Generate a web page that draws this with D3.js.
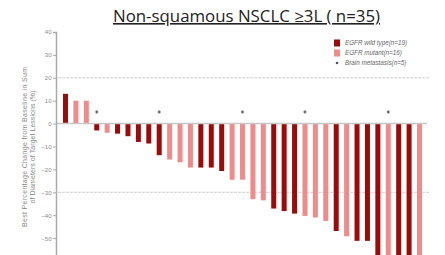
<!DOCTYPE html>
<html lang="en">
<head>
<meta charset="utf-8">
<title>Waterfall</title>
<script src="https://d3js.org/d3.v7.min.js"></script>
<style>
body { margin: 0; background: #fff; }
svg { display: block; }
</style>
</head>
<body>
<div id="chart"></div>
<script>
// data
const patients = d3.range(1, 36);
const change = [13, 10, 10, -3, -4, -4.4, -5.5, -8, -8.7, -13.8,
  -15.7, -16.9, -19.2, -19.2, -19.2, -20.7, -24.5, -24.5, -33, -33.5,
  -37.1, -38.2, -39.3, -40.3, -41, -42.5, -46.9, -49.2, -51.2, -51.2,
  -58, -62, -66, -72, -80];
const group = ["wt","mut","mut","wt","mut","wt","wt","wt","wt","wt",
  "mut","mut","mut","wt","wt","wt","mut","mut","mut","mut",
  "wt","wt","wt","mut","mut","mut","wt","mut","wt","wt",
  "wt","mut","wt","wt","mut"];
const brainMets = [4, 10, 18, 24, 32];
const yTicks = [40, 30, 20, 10, 0, -10, -20, -30, -40, -50];
const refLines = [20, -30];
const legendLabels = ["EGFR wild type(n=19)", "EGFR mutant(n=16)", "Brain metastasis(n=5)"];

const width = 445, height = 255;
const dark = "#9c0b0b", light = "#ef8b8b";
const color = d3.scaleOrdinal().domain(["wt", "mut"]).range([dark, light]);

const svg = d3.select("#chart").append("svg")
    .attr("width", width)
    .attr("height", height);

const x = d3.scaleLinear().domain([1, 35]).range([65.5, 419.5]);
const y = d3.scaleLinear().domain([-60, 40]).range([261, 32]);
const barW = 5;

// title
svg.append("text")
    .attr("x", 113).attr("y", 22)
    .attr("textLength", 267)
    .attr("lengthAdjust", "spacingAndGlyphs")
    .style("font-family", "'Open Sans', sans-serif")
    .style("font-size", "16px")
    .style("fill", "#222")
    .style("text-decoration", "underline")
    .text("Non-squamous NSCLC \u22653L ( n=35)");

// dashed reference lines
svg.selectAll(".ref")
    .data(refLines)
    .enter().append("line")
    .attr("x1", 58).attr("x2", 430)
    .attr("y1", d => y(d)).attr("y2", d => y(d))
    .attr("stroke", "#c4c4c4")
    .attr("stroke-width", 0.8)
    .attr("stroke-dasharray", "3,1");

// bars
svg.selectAll(".bar")
    .data(change)
    .enter().append("rect")
    .attr("x", (d, i) => x(patients[i]) - barW / 2)
    .attr("y", d => y(Math.max(0, d)))
    .attr("width", barW)
    .attr("height", d => Math.abs(y(d) - y(0)))
    .attr("fill", (d, i) => color(group[i]));

// zero line
svg.append("line")
    .attr("x1", 57).attr("x2", 427)
    .attr("y1", y(0)).attr("y2", y(0))
    .attr("stroke", "#c8c8c8")
    .attr("stroke-width", 1.5);

// brain metastasis markers
svg.selectAll(".star")
    .data(brainMets)
    .enter().append("circle")
    .attr("cx", d => x(d))
    .attr("cy", 112)
    .attr("r", 1.4)
    .attr("fill", "#555")
    .attr("stroke", "#bbb")
    .attr("stroke-width", 0.6);

// y axis
const yAxis = svg.append("g")
    .attr("transform", "translate(56,0)")
    .call(d3.axisLeft(y).tickValues(yTicks).tickSize(3).tickPadding(1.5));
yAxis.select(".domain").attr("stroke", "#aaa").attr("stroke-width", 1.5);
yAxis.selectAll(".tick line").attr("stroke", "#aaa");
yAxis.selectAll(".tick text")
    .style("font-family", "Arial, 'Liberation Sans', sans-serif")
    .style("font-size", "6px")
    .attr("fill", "#8a8a8a");

// y label
const yl = svg.append("text")
    .attr("transform", "translate(27,147) rotate(-90)")
    .attr("text-anchor", "middle")
    .style("font-family", "Arial, 'Liberation Sans', sans-serif")
    .style("font-size", "7px")
    .attr("fill", "#8a8a8a");
yl.append("tspan").attr("x", 0).attr("y", 0)
    .attr("textLength", 160)
    .text("Best Percentage Change from Baseline in Sum");
yl.append("tspan").attr("x", 0).attr("y", 8)
    .attr("textLength", 113)
    .text("of Diameters of Target Lessions (%)");

// legend
const legend = svg.append("g").attr("transform", "translate(334,43)");
const rows = legend.selectAll("g")
    .data(legendLabels)
    .enter().append("g")
    .attr("transform", (d, i) => "translate(0," + i * 10 + ")");
rows.filter((d, i) => i < 2).append("rect")
    .attr("x", 0).attr("y", -3.5)
    .attr("width", 6).attr("height", 7)
    .attr("fill", (d, i) => i === 0 ? dark : light);
rows.filter((d, i) => i === 2).append("circle")
    .attr("cx", 3).attr("cy", 0).attr("r", 1.3)
    .attr("fill", "#555");
rows.append("text")
    .attr("x", 11).attr("y", 2)
    .style("font-family", "Arial, 'Liberation Sans', sans-serif")
    .style("font-size", "6.3px")
    .style("font-style", "italic")
    .attr("fill", "#666")
    .text(d => d);
</script>
</body>
</html>
